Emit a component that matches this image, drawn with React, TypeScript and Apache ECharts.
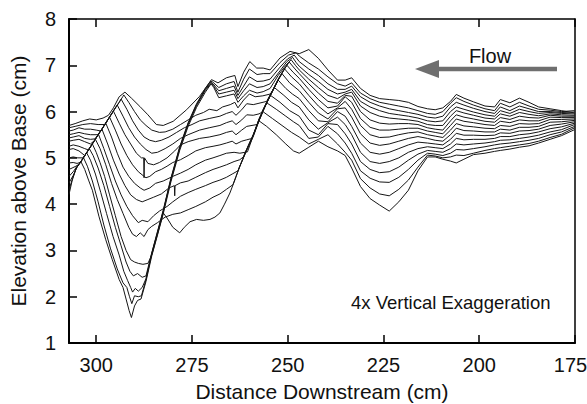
import { useEffect, useRef } from "react";
import * as echarts from "echarts";

// Shared x grid (cm) for the downstream (right) half of every profile
const xRight = [247, 244.5, 242, 239.5, 237, 235, 233.3, 231, 228.5, 226, 223.5, 221, 218.5, 216, 213.5, 211.5, 209.5, 207.5, 206, 204, 201.5, 198.5, 196, 194.5, 192, 189.5, 187, 184.5, 181.5, 178.5, 175.1];

const p0Left = [[307.1,5.70],[305.5,5.74],[303.5,5.80],[301.7,5.84],[300,5.82],[298.2,5.86],[296.8,5.92],[295.5,6.08],[294,6.32],[292.5,6.42],[290.8,6.29],[288.6,6.11],[286.5,5.93],[284.3,5.72],[282.5,5.70],[279.9,5.79],[276.4,6.04],[273,6.33],[269.9,6.69],[268.2,6.62],[266,6.73],[263.8,6.78],[263,6.54],[261.5,6.85],[259.9,7.08],[258.1,6.94],[256.4,6.94],[254.6,6.90],[252,7.16],[249.4,7.30]];
const p0Right = [7.25, 7.34, 7.15, 6.9, 6.68, 6.68, 6.73, 6.5, 6.35, 6.28, 6.26, 6.24, 6.2, 6.11, 6.06, 6.04, 6.08, 6.22, 6.37, 6.29, 6.21, 6.12, 6.1, 6.26, 6.19, 6.29, 6.2, 6.1, 6.06, 6.02, 5.97];

const p1Left = [[307.1,5.65],[305.5,5.68],[303.5,5.72],[301.5,5.74],[299.5,5.72],[297.8,5.72],[297,5.82],[296,5.95],[295,6.08],[294,6.2],[293,6.33],[292.8,6.36],[291.5,6.2],[290,6.0],[288.5,5.82],[287,5.7],[285.5,5.6],[283.5,5.55],[282,5.56],[280,5.62],[278,5.72],[276,5.82],[274,5.92],[272,5.98],[270.5,6.05],[268.5,6.02],[267,6.1],[265,6.15],[263.8,6.2],[263,6.08],[261.5,6.25],[260,6.38],[258.5,6.32],[256.5,6.34],[254.5,6.38],[253.5,6.52],[252.5,6.68],[251,6.9],[249.6,7.07],[248.3,6.94]];
const p1Right = [6.82, 6.6, 6.4, 6.22, 6.18, 6.35, 6.33, 6.0, 5.82, 5.75, 5.73, 5.74, 5.74, 5.72, 5.65, 5.62, 5.6, 5.8, 5.93, 5.88, 5.84, 5.79, 5.77, 5.87, 5.83, 5.9, 5.87, 5.86, 5.92, 5.9, 5.9];

const p2Left = [[307.1,5.58],[306,5.6],[304.5,5.65],[303,5.62],[301.5,5.62],[300,5.6],[298.8,5.58],[298,5.69],[297,5.82],[296,5.95],[295,6.08],[294,6.2],[293.5,6.27],[292,6.05],[290.5,5.8],[289,5.6],[287.5,5.45],[286,5.38],[284.5,5.35],[283,5.38],[281,5.45],[279,5.55],[277,5.65],[275,5.72],[273,5.8],[270.5,5.85],[267.7,5.9],[266,5.96],[264.5,6.0],[263.5,5.92],[262,6.04],[260.7,6.17],[259,6.15],[257.5,6.18],[255.5,6.22],[254,6.45],[252.5,6.7],[251.2,6.88],[250.2,7.0],[248.6,6.85]];
const p2Right = [6.72, 6.48, 6.26, 6.08, 6.12, 6.32, 6.2, 5.85, 5.66, 5.6, 5.6, 5.62, 5.64, 5.64, 5.58, 5.55, 5.52, 5.7, 5.84, 5.79, 5.76, 5.72, 5.7, 5.79, 5.76, 5.82, 5.8, 5.8, 5.88, 5.87, 5.87];

const p3Left = [[307.1,5.5],[306,5.52],[304.5,5.55],[303,5.52],[301.5,5.5],[299.6,5.5],[298.5,5.62],[297.5,5.75],[296.5,5.88],[295.5,6.01],[294.5,6.14],[293,5.9],[291.5,5.65],[290,5.45],[288.5,5.3],[287,5.18],[285.5,5.1],[284,5.12],[282,5.2],[280,5.3],[278,5.42],[276,5.5],[273,5.6],[270.5,5.65],[267.7,5.7],[266,5.76],[264.5,5.8],[263.5,5.72],[262,5.82],[260.7,5.93],[259,5.92],[257.5,5.95],[256.8,5.98],[255.5,6.2],[254,6.44],[252.5,6.69],[251.5,6.83],[250.8,6.92],[249,6.75]];
const p3Right = [6.6, 6.35, 6.12, 5.95, 6.08, 6.22, 6.05, 5.7, 5.5, 5.44, 5.45, 5.5, 5.54, 5.56, 5.5, 5.47, 5.44, 5.6, 5.74, 5.69, 5.67, 5.64, 5.63, 5.7, 5.68, 5.74, 5.73, 5.74, 5.83, 5.83, 5.84];

const p4Left = [[307.1,5.43],[306,5.45],[304.5,5.48],[303,5.42],[301.5,5.4],[300.3,5.41],[299.5,5.5],[298.5,5.62],[297.5,5.75],[296.5,5.88],[295.5,6.01],[294,5.75],[292.5,5.5],[291,5.3],[289.5,5.1],[288.2,5.0],[287.6,5.0],[287.5,4.57],[287.4,5.0],[286.5,4.88],[285,4.85],[283.5,4.9],[281.5,5.0],[279.5,5.15],[278,5.28],[276,5.35],[273,5.42],[270.5,5.45],[267.7,5.5],[266,5.55],[264.5,5.58],[263.5,5.5],[262,5.6],[260.7,5.68],[258,5.72],[257,5.9],[255.5,6.19],[254,6.43],[252.5,6.68],[251.5,6.82],[249.5,6.62]];
const p4Right = [6.45, 6.2, 5.97, 5.84, 6.06, 6.08, 5.88, 5.52, 5.32, 5.27, 5.3, 5.36, 5.42, 5.46, 5.42, 5.38, 5.36, 5.5, 5.64, 5.59, 5.58, 5.56, 5.56, 5.62, 5.6, 5.66, 5.66, 5.68, 5.77, 5.78, 5.81];

const p5Left = [[307.1,5.36],[306,5.38],[304.5,5.4],[303,5.35],[301.5,5.3],[300.5,5.37],[299.5,5.5],[298.5,5.62],[297.5,5.75],[296.5,5.88],[295,5.6],[293.5,5.3],[292,5.05],[290.5,4.85],[289,4.7],[287.5,4.6],[287,4.57],[286,4.6],[284.5,4.7],[283,4.75],[281.5,4.82],[280,4.9],[278,4.96],[276,5.05],[274,5.15],[271.5,5.22],[269.5,5.25],[267.7,5.28],[266,5.32],[264.5,5.36],[263.5,5.3],[262,5.36],[260.7,5.39],[259.3,5.42],[258,5.7],[256.5,6.0],[255,6.27],[253.5,6.52],[252.5,6.68],[250.5,6.5],[248.8,6.38]];
const p5Right = [6.28, 6.02, 5.8, 5.78, 6.0, 5.9, 5.68, 5.32, 5.12, 5.08, 5.12, 5.2, 5.28, 5.34, 5.32, 5.3, 5.28, 5.4, 5.53, 5.49, 5.49, 5.48, 5.49, 5.54, 5.53, 5.58, 5.59, 5.62, 5.7, 5.73, 5.78];

const p6Left = [[307.1,5.25],[306,5.28],[304.5,5.25],[303,5.2],[302,5.17],[301,5.3],[300,5.43],[299,5.56],[298,5.69],[297.5,5.75],[296,5.45],[294.5,5.1],[293,4.8],[291.5,4.6],[290,4.45],[288.5,4.35],[287.5,4.3],[286,4.35],[284.5,4.45],[282.5,4.5],[280,4.6],[278,4.67],[276,4.75],[274,4.85],[271.5,4.95],[269.5,5.0],[267.7,5.05],[266,5.1],[264,5.12],[262.5,5.1],[260.5,5.13],[259,5.48],[257.5,5.84],[256,6.11],[254.5,6.36],[253.5,6.52],[251,6.35],[249,6.2]];
const p6Right = [6.1, 5.82, 5.62, 5.76, 5.88, 5.72, 5.5, 5.12, 4.92, 4.88, 4.92, 5.0, 5.12, 5.2, 5.24, 5.22, 5.2, 5.3, 5.42, 5.39, 5.4, 5.4, 5.42, 5.46, 5.46, 5.5, 5.52, 5.56, 5.63, 5.67, 5.75];

const p7Left = [[307.1,5.18],[306,5.2],[304.5,5.15],[303,5.05],[302.3,5.13],[301,5.3],[300,5.43],[299,5.56],[298.5,5.62],[297,5.3],[295.5,4.95],[294,4.65],[292.5,4.4],[291,4.2],[289.5,4.1],[288,4.05],[286.5,4.1],[285,4.15],[283,4.22],[281,4.35],[279.6,4.4],[279.5,4.18],[279.4,4.4],[278,4.46],[276,4.5],[274,4.58],[271.5,4.68],[269.5,4.75],[267.7,4.8],[266,4.85],[264,4.92],[262.5,4.96],[261.6,5.02],[260.8,5.17],[259,5.5],[257.5,5.83],[256,6.1],[254.5,6.35],[252,6.2],[249.5,6.02]];
const p7Right = [5.9, 5.6, 5.5, 5.74, 5.72, 5.52, 5.3, 4.92, 4.75, 4.68, 4.7, 4.8, 4.95, 5.08, 5.16, 5.14, 5.12, 5.2, 5.3, 5.28, 5.3, 5.32, 5.35, 5.38, 5.39, 5.42, 5.45, 5.49, 5.56, 5.61, 5.72];

const p8Left = [[307.1,5.0],[306,5.02],[304.8,5.0],[303.5,5.0],[302.5,5.11],[301.5,5.24],[300.5,5.37],[299.4,5.51],[298,5.2],[296.5,4.85],[295,4.5],[293.5,4.2],[292,3.95],[290.5,3.75],[289,3.6],[288,3.65],[286.5,3.62],[285,3.75],[283.5,3.85],[281.5,3.95],[280,4.05],[278,4.17],[276,4.25],[274,4.32],[271.5,4.4],[269.5,4.47],[267.7,4.52],[266,4.58],[264.5,4.65],[263,4.72],[262,4.92],[260.8,5.17],[259,5.5],[257.5,5.82],[256.5,6.02],[255.5,6.19],[253,6.05],[250.5,5.9],[248.5,5.78]];
const p8Right = [5.7, 5.42, 5.45, 5.68, 5.52, 5.32, 5.1, 4.72, 4.56, 4.48, 4.47, 4.58, 4.75, 4.95, 5.1, 5.08, 5.05, 5.1, 5.18, 5.17, 5.2, 5.24, 5.28, 5.3, 5.32, 5.35, 5.38, 5.42, 5.5, 5.56, 5.68];

const p9Left = [[307.1,4.89],[306,4.9],[305,4.88],[304.2,4.9],[303.5,4.98],[302.5,5.11],[301.5,5.24],[300.2,5.4],[299,5.2],[297.5,4.85],[296,4.45],[294.5,4.1],[293,3.8],[291.5,3.5],[290.5,3.35],[289.5,3.3],[288.5,3.38],[287.5,3.3],[286.5,3.45],[285.5,3.52],[284,3.6],[282,3.72],[280,3.78],[278,3.81],[276,3.88],[274,3.95],[271.5,4.05],[269.5,4.15],[267.7,4.22],[266,4.32],[264.3,4.42],[263.5,4.6],[262.5,4.82],[260.8,5.15],[259,5.48],[258,5.7],[257,5.9],[256.5,6.0],[254,5.85],[251.5,5.7],[249,5.55]];
const p9Right = [5.45, 5.3, 5.4, 5.5, 5.3, 5.12, 4.95, 4.55, 4.35, 4.22, 4.18, 4.32, 4.52, 4.8, 5.06, 5.04, 5.0, 5.02, 5.06, 5.05, 5.1, 5.16, 5.2, 5.22, 5.25, 5.28, 5.31, 5.36, 5.44, 5.51, 5.65];

const p10Left = [[307.1,4.75],[306.3,4.78],[305.3,4.82],[304.5,4.86],[303.5,4.98],[302.5,5.11],[301.5,5.24],[301,5.3],[300,5.12],[299,4.9],[297.8,4.6],[296.5,4.2],[295,3.75],[293.5,3.3],[292.2,3.0],[291,2.8],[290,2.75],[289,2.72],[287.8,2.7],[286.5,2.72],[285.5,2.9],[284,3.35],[282.5,3.81],[281.5,3.7],[280,3.5],[278.2,3.38],[277,3.5],[275.5,3.62],[273.8,3.67],[272,3.65],[270.3,3.67],[269,3.72],[267.7,3.81],[266.5,4.0],[265.1,4.24],[263.8,4.52],[262.5,4.82],[260.8,5.15],[259,5.46],[257.5,5.8],[255.5,5.68],[253,5.5],[250.5,5.3],[248.5,5.15]];
const p10Right = [5.10, 5.23, 5.36, 5.24, 5.15, 5.05, 4.78, 4.38, 4.12, 3.98, 3.85, 4.05, 4.3, 4.72, 5.02, 5.02, 4.97, 4.93, 4.89, 4.97, 5.07, 5.1, 5.14, 5.16, 5.19, 5.23, 5.26, 5.32, 5.4, 5.48, 5.61];

const p11Left = [[307.1,4.6],[306,4.7],[305,4.82],[304.5,4.86],[303.5,4.98],[302.5,5.11],[301.8,5.2],[300.8,5.05],[299.5,4.78],[298,4.4],[296.5,3.95],[295,3.5],[293.5,3.1],[292.2,2.75],[291.2,2.55],[290.3,2.45],[289.2,2.5],[288,2.42],[287,2.45],[285.8,2.85],[284,3.41],[282.5,3.87],[280.5,4.56],[278.2,5.24],[276,5.76],[273.8,6.17],[271.5,6.5],[270.1,6.66],[269.6,6.64],[268,6.52],[266,6.6],[264,6.65],[263,6.42],[261.5,6.7],[260,6.92],[258,6.8],[256.4,6.82],[254.6,6.82],[252,7.06],[249.8,7.22],[247.8,7.27]];
const p11Right = [7.2, 7.05, 6.92, 6.75, 6.6, 6.55, 6.62, 6.4, 6.28, 6.2, 6.16, 6.12, 6.08, 6.02, 5.96, 5.94, 6.0, 6.18, 6.3, 6.22, 6.14, 6.06, 6.02, 6.18, 6.1, 6.2, 6.12, 6.05, 6.03, 6.0, 6.02];

const p12Left = [[307.1,4.46],[306,4.62],[305,4.8],[304.3,4.88],[303.5,4.98],[302.5,5.11],[301.5,4.95],[300.2,4.65],[298.8,4.25],[297.3,3.8],[295.6,3.3],[294,2.9],[292.8,2.55],[291.8,2.35],[291,2.2],[290.5,2.1],[289.8,2.18],[289,2.12],[288,2.2],[287,2.39],[285.5,2.94],[284,3.39],[282.5,3.85],[280.5,4.54],[278.2,5.22],[276,5.74],[273.8,6.15],[271.5,6.48],[270,6.64],[269.5,6.6],[268,6.45],[266,6.5],[264,6.55],[263,6.35],[261.5,6.55],[260,6.75],[258,6.65],[256.4,6.66],[254.6,6.7],[252,6.96],[250,7.14],[248.3,7.22]];
const p12Right = [7.08, 6.92, 6.78, 6.6, 6.48, 6.48, 6.55, 6.32, 6.2, 6.12, 6.06, 6.02, 5.98, 5.94, 5.88, 5.86, 5.9, 6.1, 6.2, 6.14, 6.07, 6.0, 5.96, 6.1, 6.02, 6.12, 6.06, 6.0, 6.0, 5.98, 5.99];

const p13Left = [[307.1,4.31],[306.2,4.55],[305.2,4.78],[304.3,4.88],[303.3,5.0],[302.3,4.82],[301,4.5],[299.5,4.05],[298,3.55],[296.3,3.05],[294.5,2.6],[293,2.3],[292,2.2],[291.3,2.0],[290.7,1.85],[290,2.02],[289,2.0],[288.2,2.02],[287,2.37],[285.5,2.92],[284,3.37],[282.5,3.83],[280.5,4.52],[278.2,5.2],[276,5.72],[273.8,6.13],[271.5,6.46],[269.9,6.62],[269.4,6.56],[268,6.38],[266,6.42],[264,6.46],[263,6.28],[261.5,6.45],[260,6.6],[258,6.52],[256.4,6.54],[254.6,6.6],[252,6.88],[250.2,7.08],[248.7,7.17],[247.8,7.06]];
const p13Right = [6.98, 6.8, 6.65, 6.48, 6.38, 6.42, 6.48, 6.22, 6.1, 6.02, 5.96, 5.93, 5.9, 5.86, 5.8, 5.78, 5.8, 6.0, 6.1, 6.05, 5.99, 5.93, 5.9, 6.02, 5.96, 6.05, 6.0, 5.96, 5.98, 5.96, 5.95];

const p14Left = [[307.1,4.21],[306.3,4.5],[305.3,4.76],[304.5,4.87],[304,4.92],[303,4.75],[302,4.52],[301,4.3],[299.3,3.74],[297.5,3.23],[295.8,2.8],[294,2.37],[293,2.2],[292.2,1.95],[291.4,1.7],[290.8,1.55],[290,1.8],[289.2,1.92],[288.3,1.95],[287,2.33],[285.5,2.88],[284,3.33],[282.5,3.79],[280.5,4.48],[278.2,5.16],[276,5.68],[273.8,6.09],[271.5,6.42],[270,6.6],[269.3,6.52],[268,6.3],[266,6.34],[264,6.38],[263,6.2],[261.5,6.34],[260,6.46],[258,6.4],[256.4,6.43],[254.6,6.5],[252.5,6.78],[250.5,7.0],[249.1,7.12],[248,7.0]];
const p14Right = [6.9, 6.7, 6.52, 6.35, 6.28, 6.38, 6.42, 6.12, 5.98, 5.9, 5.86, 5.84, 5.82, 5.79, 5.72, 5.7, 5.7, 5.9, 6.02, 5.97, 5.92, 5.86, 5.84, 5.95, 5.9, 5.98, 5.94, 5.91, 5.95, 5.93, 5.92];

const profiles: [number[][], number[]][] = [
  [p0Left, p0Right], [p1Left, p1Right], [p2Left, p2Right], [p3Left, p3Right], [p4Left, p4Right],
  [p5Left, p5Right], [p6Left, p6Right], [p7Left, p7Right], [p8Left, p8Right], [p9Left, p9Right],
  [p10Left, p10Right], [p11Left, p11Right], [p12Left, p12Right], [p13Left, p13Right], [p14Left, p14Right],
];

const xMin = 175;
const xMax = 307.1;
const xTickStep = 25;
const yMin = 1;
const yMax = 8;

const FONT = "'Liberation Sans', Arial, Helvetica, sans-serif";

export default function App() {
  const ref = useRef<HTMLDivElement>(null);
  useEffect(() => {
    document.body.style.margin = "0";
    const chart = echarts.init(ref.current!, null, { renderer: "svg" });
    const series = profiles.map(([left, right], i) => ({
      name: "profile" + i,
      type: "line",
      data: left.concat(xRight.map((x, j) => [x, right[j]])),
      symbol: "none",
      silent: true,
      lineStyle: { color: "#151515", width: 1 },
      z: 2,
    }));
    const tickFmt = (v: number) => {
      if (Math.abs(v % xTickStep) > 1e-6) return "";
      return v === xMin ? "{edge|" + v + "}" : String(v);
    };
    chart.setOption({
      animation: false,
      textStyle: { fontFamily: FONT },
      grid: { left: 69, right: 12, top: 19, bottom: 61, outerBoundsMode: "none" },
      xAxis: [
        {
          type: "value", inverse: true, min: xMin, max: xMax, interval: xTickStep, position: "bottom",
          axisLine: { show: true, lineStyle: { color: "#000", width: 2 } },
          axisTick: { show: true, inside: true, length: 8, lineStyle: { color: "#000", width: 1.5 } },
          axisLabel: {
            show: true, fontSize: 20, color: "#111", margin: 12, fontFamily: FONT, formatter: tickFmt, showMaxLabel: false,
            rich: { edge: { fontSize: 20, color: "#111", fontFamily: FONT, padding: [0, 9, 0, 0] } },
          },
          splitLine: { show: false },
          name: "Distance Downstream (cm)", nameLocation: "middle", nameGap: 38,
          nameTextStyle: { fontSize: 21, color: "#111", fontFamily: FONT },
        },
        {
          type: "value", inverse: true, min: xMin, max: xMax, interval: xTickStep, position: "top",
          axisLine: { show: true, lineStyle: { color: "#000", width: 1.5 } },
          axisTick: { show: true, inside: true, length: 8, lineStyle: { color: "#000", width: 1.5 } },
          axisLabel: { show: false }, splitLine: { show: false },
        },
      ],
      yAxis: [
        {
          type: "value", min: yMin, max: yMax, interval: 1, position: "left",
          axisLine: { show: true, lineStyle: { color: "#000", width: 2 } },
          axisTick: { show: true, inside: true, length: 8, lineStyle: { color: "#000", width: 1.5 } },
          axisLabel: { show: true, fontSize: 20, color: "#111", margin: 13, fontFamily: FONT },
          splitLine: { show: false },
          name: "Elevation above Base (cm)", nameLocation: "middle", nameGap: 40,
          nameTextStyle: { fontSize: 21, color: "#111", fontFamily: FONT },
        },
        {
          type: "value", min: yMin, max: yMax, interval: 1, position: "right",
          axisLine: { show: true, lineStyle: { color: "#000", width: 1.5 } },
          axisTick: { show: false }, axisLabel: { show: false }, splitLine: { show: false },
        },
      ],
      graphic: [
        { type: "rect", shape: { x: 436, y: 66.8, width: 121, height: 4.4 }, style: { fill: "#6f6f6f" }, silent: true },
        { type: "polygon", shape: { points: [[415, 69], [439, 60], [439, 78]] }, style: { fill: "#6f6f6f" }, silent: true },
        { type: "text", x: 490, y: 56, style: { text: "Flow", fontSize: 20, fill: "#111", textAlign: "center", textVerticalAlign: "middle", fontFamily: FONT }, silent: true },
        { type: "text", x: 351, y: 302, style: { text: "4x Vertical Exaggeration", fontSize: 18.5, fill: "#111", textAlign: "left", textVerticalAlign: "middle", fontFamily: FONT }, silent: true },
      ],
      series,
    });
    return () => chart.dispose();
  }, []);
  return <div ref={ref} style={{ width: 587, height: 404, position: "absolute", left: 0, top: 0 }} />;
}
